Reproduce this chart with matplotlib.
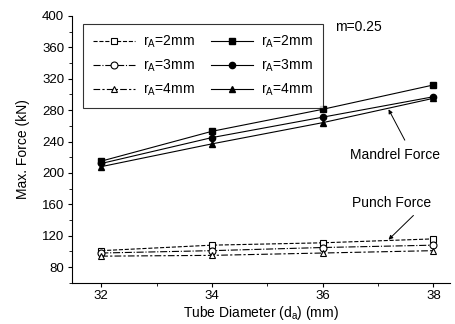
import matplotlib
matplotlib.use("Agg")
import matplotlib.pyplot as plt
from matplotlib.ticker import MultipleLocator

plt.rcParams['font.family'] = ['Liberation Sans', 'DejaVu Sans']

# tube diameter (mm)
diameters = [32, 34, 36, 38]

# mandrel force (kN), filled markers
mandrel_r2 = [215, 253, 281, 312]
mandrel_r3 = [212, 245, 271, 297]
mandrel_r4 = [208, 237, 264, 295]

# punch force (kN), open markers
punch_r2 = [101, 108, 111, 116]
punch_r3 = [98, 101, 105, 108]
punch_r4 = [94, 95, 98, 101]

labels = ['r$_\\mathregular{A}$=2mm', 'r$_\\mathregular{A}$=3mm', 'r$_\\mathregular{A}$=4mm']

fig = plt.figure(figsize=(4.55, 3.24), dpi=100)
ax = fig.add_axes([0.158, 0.127, 0.831, 0.824])

open_styles = ['--', '-.', (0, (6, 2, 2, 2))]
markers = ['s', 'o', '^']

handles_open = []
for vals, ls, mk, lab in zip([punch_r2, punch_r3, punch_r4], open_styles, markers, labels):
    h, = ax.plot(diameters, vals, color='black', linestyle=ls, linewidth=0.8,
                 marker=mk, markersize=5, markerfacecolor='white',
                 markeredgecolor='black', markeredgewidth=0.8, label=lab)
    handles_open.append(h)

handles_fill = []
for vals, mk, lab in zip([mandrel_r2, mandrel_r3, mandrel_r4], markers, labels):
    h, = ax.plot(diameters, vals, color='black', linestyle='-', linewidth=0.8,
                 marker=mk, markersize=4.5, markerfacecolor='black',
                 markeredgecolor='black', label=lab)
    handles_fill.append(h)

ax.set_xlim(31.47, 38.3)
ax.set_ylim(60, 400)
ax.xaxis.set_major_locator(MultipleLocator(2))
ax.xaxis.set_minor_locator(MultipleLocator(1))
ax.yaxis.set_minor_locator(MultipleLocator(20))
ax.set_yticks(range(80, 401, 40))
ax.tick_params(which='major', direction='out', length=3, width=0.8, labelsize=9.5, pad=2.5)
ax.tick_params(which='minor', direction='out', length=2, width=0.6)
ax.spines['top'].set_visible(False)
ax.spines['right'].set_visible(False)

ax.set_xlabel('Tube Diameter (d$_\\mathregular{a}$) (mm)', fontsize=10, labelpad=1)
ax.set_ylabel('Max. Force (kN)', fontsize=10, labelpad=9)

leg = ax.legend(handles_open + handles_fill, labels + labels, ncol=2,
                loc='upper left', bbox_to_anchor=(0.012, 0.995), fontsize=10,
                frameon=True, fancybox=False, handlelength=3.0,
                columnspacing=1.2, handletextpad=0.6, labelspacing=0.55,
                borderpad=0.7)
leg.get_frame().set_edgecolor('black')
leg.get_frame().set_linewidth(0.8)

ax.text(36.23, 386, 'm=0.25', fontsize=10, ha='left', va='center')

ax.annotate('Mandrel Force', xy=(37.19, 281), xytext=(36.5, 223),
            fontsize=10, ha='left', va='center',
            arrowprops=dict(arrowstyle='-|>', color='black', lw=0.7,
                            shrinkA=4, shrinkB=0, mutation_scale=6,
                            relpos=(0.65, 1.0)))
ax.annotate('Punch Force', xy=(37.19, 115), xytext=(36.53, 162),
            fontsize=10, ha='left', va='center',
            arrowprops=dict(arrowstyle='-|>', color='black', lw=0.7,
                            shrinkA=3, shrinkB=0, mutation_scale=6,
                            relpos=(0.85, 0.0)))

fig.savefig('out.png', dpi=100)
